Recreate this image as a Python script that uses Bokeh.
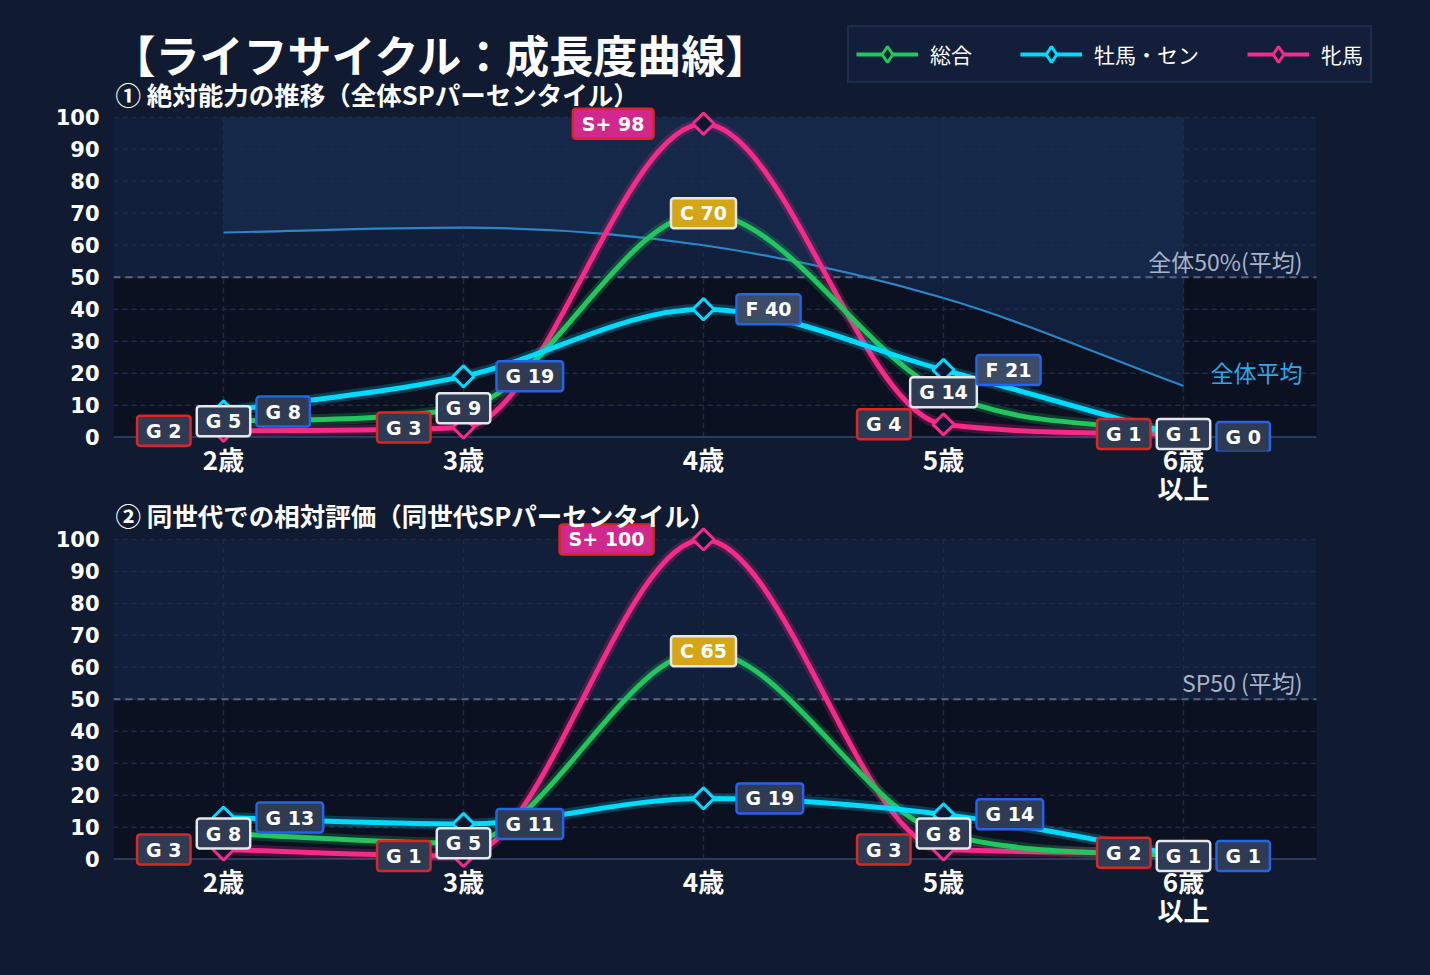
import numpy as np

from bokeh.plotting import figure
from bokeh.layouts import column
from bokeh.models import Range1d, FixedTicker, Label, Legend, LegendItem
from bokeh.embed import file_html
from bokeh.resources import INLINE

# ---- data ----
age_x = [2, 3, 4, 5, 6]
age_labels = ["2歳", "3歳", "4歳", "5歳", "6歳\n以上"]

series_names = ["総合", "牡馬・セン", "牝馬"]

abs_total = [5, 9, 70, 14, 1]
abs_total_grade = ["G", "G", "C", "G", "G"]
abs_male = [8, 19, 40, 21, 0]
abs_male_grade = ["G", "G", "F", "F", "G"]
abs_female = [2, 3, 98, 4, 1]
abs_female_grade = ["G", "G", "S+", "G", "G"]
abs_overall_avg = [64, 65.5, 60, 43.5, 16]

rel_total = [8, 5, 65, 8, 1]
rel_total_grade = ["G", "G", "C", "G", "G"]
rel_male = [13, 11, 19, 14, 1]
rel_male_grade = ["G", "G", "G", "G", "G"]
rel_female = [3, 1, 100, 3, 2]
rel_female_grade = ["G", "G", "S+", "G", "G"]

y_ticks = list(range(0, 101, 10))

# ---- styling ----
PAGE_BG = "#101a30"
FRAME_BG = "#0b1121"
GRID = "#1d2b48"
COLORS = {"総合": "#22c55e", "牡馬・セン": "#00dcff", "牝馬": "#f72a8a"}
BOX_BORDER = {"総合": "#e5e7eb", "牡馬・セン": "#2563eb", "牝馬": "#dc2626"}
GRADE_FILL = {"G": "#2f3b52", "F": "#3b4b68", "C": "#d4a516", "S+": "#d1288e"}
JP = "Noto Sans CJK JP"

X_LO, X_HI = 1.5417, 6.554      # visible plot area along x
PPU = 3.2                        # pixels per y unit
Y_LO = -4.5
FIG1_BOTTOM = 66


def monotone_controls(xs, ys):
    # Fritsch-Carlson tangents, same scheme Chart.js uses for 'monotone'
    xs = np.asarray(xs, float)
    ys = np.asarray(ys, float)
    n = len(xs)
    d = np.diff(ys) / np.diff(xs)
    m = np.zeros(n)
    m[0], m[-1] = d[0], d[-1]
    for i in range(1, n - 1):
        m[i] = 0 if d[i - 1] * d[i] <= 0 else (d[i - 1] + d[i]) / 2
    for i in range(n - 1):
        if d[i] == 0:
            m[i] = m[i + 1] = 0
            continue
        a, b = m[i] / d[i], m[i + 1] / d[i]
        s = a * a + b * b
        if s > 9:
            t = 3 / np.sqrt(s)
            m[i] = a * t * d[i]
            m[i + 1] = b * t * d[i]
    dx = np.diff(xs) / 3
    return dict(x0=xs[:-1], y0=ys[:-1], x1=xs[1:], y1=ys[1:],
                cx0=xs[:-1] + dx, cy0=ys[:-1] + m[:-1] * dx,
                cx1=xs[1:] - dx, cy1=ys[1:] - m[1:] * dx)


def bezier_path(c, steps=30):
    t = np.linspace(0, 1, steps)[:, None]
    px = ((1 - t) ** 3 * c["x0"] + 3 * (1 - t) ** 2 * t * c["cx0"]
          + 3 * (1 - t) * t ** 2 * c["cx1"] + t ** 3 * c["x1"])
    py = ((1 - t) ** 3 * c["y0"] + 3 * (1 - t) ** 2 * t * c["cy0"]
          + 3 * (1 - t) * t ** 2 * c["cy1"] + t ** 3 * c["y1"])
    return px.T.ravel(), py.T.ravel()


def make_fig(y_hi, avg=None, bottom=FIG1_BOTTOM):
    fh = int(round((y_hi - Y_LO) * PPU))
    p = figure(frame_width=1287, frame_height=fh,
               x_range=Range1d(X_LO, X_LO + 1287 / 240), y_range=Range1d(Y_LO, y_hi),
               min_border_left=113, min_border_right=30,
               min_border_top=0, min_border_bottom=bottom,
               toolbar_location=None, output_backend="svg",
               background_fill_color=PAGE_BG, border_fill_color=PAGE_BG,
               background_fill_alpha=0, border_fill_alpha=0,
               outline_line_color=None)
    p.grid.visible = False
    p.xaxis.ticker = FixedTicker(ticks=age_x)
    p.xaxis.major_label_overrides = dict(zip(age_x, age_labels))
    p.xaxis.major_label_text_font = JP
    p.xaxis.major_label_text_font_style = "bold"
    p.xaxis.major_label_text_font_size = "26px"
    p.xaxis.major_label_text_color = "white"
    p.xaxis.major_label_text_line_height = 0.8
    p.xaxis.major_label_standoff = -18
    p.xaxis.axis_line_color = None
    p.xaxis.major_tick_line_color = None
    p.xaxis.minor_tick_line_color = None

    p.yaxis.ticker = FixedTicker(ticks=y_ticks)
    p.yaxis.major_label_text_font = "DejaVu Sans"
    p.yaxis.major_label_text_font_style = "bold"
    p.yaxis.major_label_text_font_size = "21px"
    p.yaxis.major_label_text_color = "white"
    p.yaxis.major_label_standoff = 8
    p.yaxis.axis_line_color = None
    p.yaxis.major_tick_line_color = None
    p.yaxis.minor_tick_line_color = None

    # plot area, upper half band, average curve fill
    p.quad(left=X_LO, right=X_HI, bottom=0, top=100, fill_color=FRAME_BG, line_color=None)
    p.quad(left=X_LO, right=X_HI, bottom=50, top=100, fill_color="#192d55",
           fill_alpha=0.5, line_color=None)
    if avg is not None:
        ax, ay = bezier_path(avg)
        p.patch(np.r_[ax, [age_x[-1], age_x[0]]], np.r_[ay, [100, 100]],
                fill_color="#183159", fill_alpha=0.5, line_color=None)
    # grid
    p.segment(x0=X_LO, x1=X_HI, y0=y_ticks, y1=y_ticks, line_color=GRID,
              line_dash="5 4", line_width=1.5)
    p.segment(x0=age_x, x1=age_x, y0=0, y1=100, line_color=GRID,
              line_dash="5 4", line_width=1.5)
    p.segment(x0=X_LO, x1=X_HI, y0=50, y1=50, line_color="#5a6580",
              line_dash="7 5", line_width=2)
    p.segment(x0=X_LO, x1=X_HI, y0=0, y1=0, line_color="#2a3a5c", line_width=2)
    if avg is not None:
        p.bezier(**avg, line_color="#2b86c5", line_width=2.2)
    return p


def draw_series(p, total, male, female, grades):
    proxies = {}
    rows = [("牝馬", female), ("総合", total), ("牡馬・セン", male)]
    for name, vals in rows:
        c = monotone_controls(age_x, vals)
        col = COLORS[name]
        p.bezier(**c, line_color=col, line_width=11, line_alpha=0.22,
                 line_cap="round")
        p.bezier(**c, line_color=col, line_width=5, line_cap="round")
    for name, vals in rows:
        p.scatter(age_x, vals, marker="square", angle=np.pi / 4,
                  size=15, line_width=3, line_color=COLORS[name],
                  fill_color="#0d1630")
        # hidden stand-ins so the legend can show "line + diamond"
        proxies[name] = [
            p.line(age_x, vals, line_color=COLORS[name], line_width=4, visible=False),
            p.scatter(age_x, vals, marker="diamond", line_width=3,
                      line_color=COLORS[name], fill_color="#131f3a", visible=False),
        ]
    for name, vals in rows:
        for xi, v, g in zip(age_x, vals, grades[name]):
            if name == "牝馬":
                align, off = "right", (-50 if g == "S+" else -33)
            elif name == "総合":
                align, off = "center", 0
            else:
                align, off = "left", 33
            p.add_layout(Label(x=xi, y=v, text=f"{g} {v}", x_offset=off,
                               text_align=align, text_baseline="middle",
                               text_font="DejaVu Sans", text_font_style="bold",
                               text_font_size="19px", text_color="white",
                               background_fill_color=GRADE_FILL[g],
                               border_line_color=BOX_BORDER[name],
                               border_line_width=2.5, border_radius=3,
                               padding=dict(left=9, right=9, top=4, bottom=4)))
    return proxies


def text(p, x, y, s, size, color="white", style="normal", align="left"):
    p.add_layout(Label(x=x, y=y, text=s, text_font=JP, text_font_size=size,
                       text_color=color, text_font_style=style,
                       text_align=align, text_baseline="middle"))


def px(xp):
    return 2 + (xp - 223) / 240


# ---- chart 1 : absolute (frame reaches the page top) ----
top1 = 437 / PPU
p1 = make_fig(top1, avg=monotone_controls(age_x, abs_overall_avg))
prox = draw_series(p1, abs_total, abs_male, abs_female,
                   {"総合": abs_total_grade, "牡馬・セン": abs_male_grade,
                    "牝馬": abs_female_grade})

text(p1, px(111), (437 - 54) / PPU, "【ライフサイクル：成長度曲線】", "44px", style="bold")
text(p1, px(115), (437 - 93) / PPU, "① 絶対能力の推移（全体SPパーセンタイル）", "25.5px", style="bold")
text(p1, px(1302), (437 - 261) / PPU, "全体50%(平均)", "23px", color="#a9b3c8", align="right")
text(p1, px(1302), (437 - 372) / PPU, "全体平均", "23px", color="#2ea6e6", align="right")

items = [LegendItem(label=name, renderers=prox[name]) for name in series_names]
frame1_h = int(round((top1 - Y_LO) * PPU))
legend = Legend(items=items, orientation="horizontal",
                location=(734, frame1_h - 83),
                background_fill_color="#131f3a", background_fill_alpha=1,
                border_line_color="#2a3a5c", border_line_width=2,
                inactive_fill_alpha=0,
                label_text_font=JP, label_text_font_size="21px",
                label_text_color="white", glyph_width=62, glyph_height=40,
                label_standoff=12, spacing=48, padding=7, margin=0)
p1.add_layout(legend)

# ---- chart 2 : relative ----
fig2_top = 492
top2 = (859 - fig2_top) / PPU
p2 = make_fig(top2, bottom=60)
draw_series(p2, rel_total, rel_male, rel_female,
            {"総合": rel_total_grade, "牡馬・セン": rel_male_grade,
             "牝馬": rel_female_grade})
text(p2, px(115), (859 - 514) / PPU, "② 同世代での相対評価（同世代SPパーセンタイル）", "25.5px", style="bold")
text(p2, px(1302), (859 - 682) / PPU, "SP50 (平均)", "23px", color="#a9b3c8", align="right")
# pull the second chart up under the first one's axis labels (its background is transparent)
p2.margin = (fig2_top - (frame1_h + FIG1_BOTTOM), 0, 0, 0)

layout = column(p1, p2, spacing=0)
html = file_html(layout, INLINE)
html = html.replace("<body>", '<body style="background-color:%s;">' % PAGE_BG)
open("out.html", "w").write(html)
